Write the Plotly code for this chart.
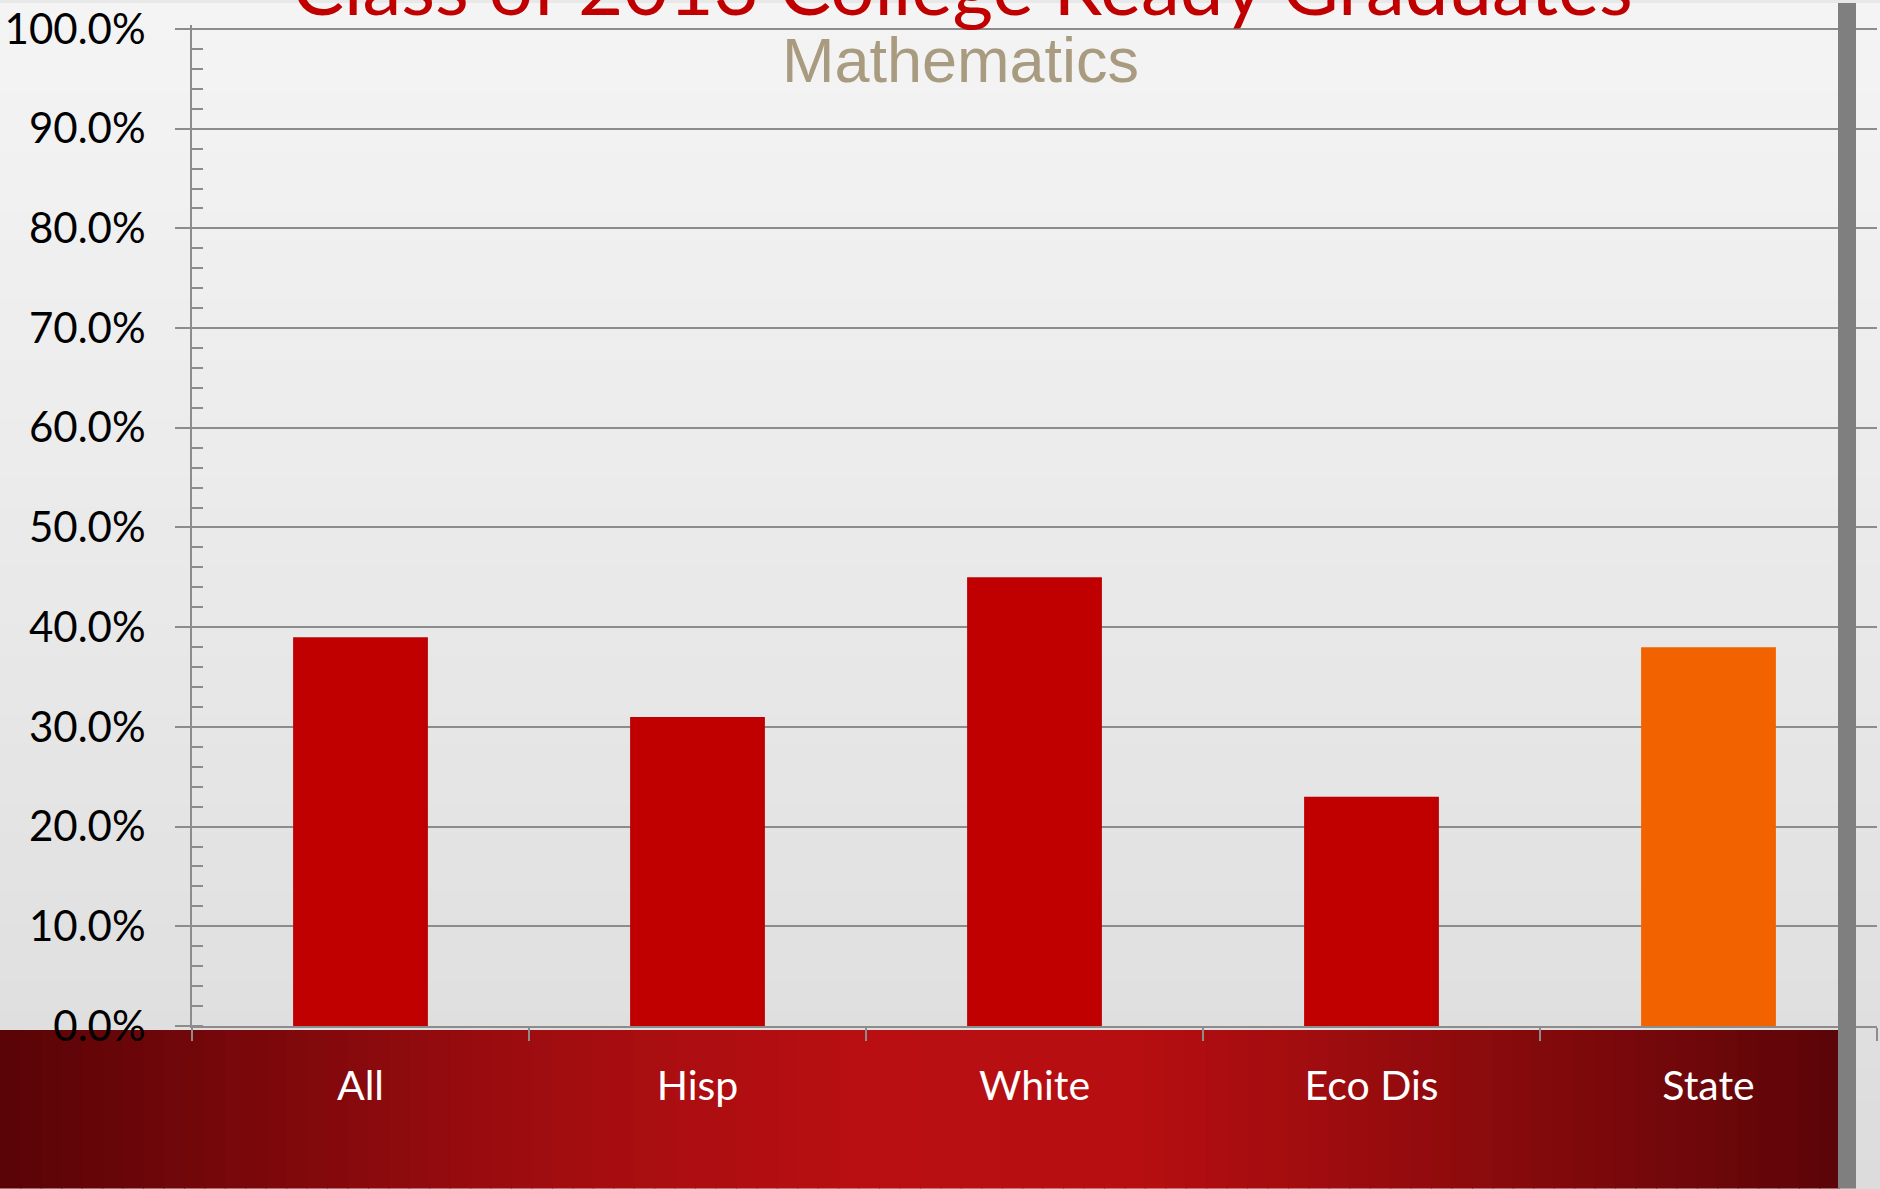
import plotly.graph_objects as go

# --- data ---
groups = ["All", "Hisp", "White", "Eco Dis", "State"]
college_ready = [0.39, 0.31, 0.45, 0.23, 0.38]
bar_colors = ["#C00000", "#C00000", "#C00000", "#C00000", "#F26300"]

TITLE = "Class of 2013 College Ready Graduates"
SUBTITLE = "Mathematics"

# --- page geometry (pixels) ---
W, H = 1880, 1189
L, R, T, B = 192, 3, 22, 163
PW, PH = W - L - R, H - T - B
Y_TOP = 1.004  # 100% sits 4px below the top edge so its gridline is drawn


def px2x(px):
    return (px - L) / PW


def py2y(py):
    return (H - B - py) / PH


def _hex(c):
    c = c.lstrip("#")
    return tuple(int(c[i:i + 2], 16) for i in (0, 2, 4))


def blend(stops, t):
    for (t0, c0), (t1, c1) in zip(stops, stops[1:]):
        if t0 <= t <= t1:
            f = 0 if t1 == t0 else (t - t0) / (t1 - t0)
            a, b = _hex(c0), _hex(c1)
            return "rgb({},{},{})".format(*[round(a[i] + (b[i] - a[i]) * f) for i in range(3)])
    return stops[-1][1]


shapes = []

# light paper background, slightly darker towards the bottom
bg_stops = [(0, "#f4f4f4"), (0.5, "#e9e9e9"), (1, "#dcdcdc")]
n_bg = 40
for i in range(n_bg):
    y0 = H * i / n_bg
    y1 = H * (i + 1) / n_bg + 1
    shapes.append(dict(type="rect", xref="paper", yref="paper", layer="below",
                       x0=px2x(0), x1=px2x(W), y0=py2y(y1), y1=py2y(y0),
                       fillcolor=blend(bg_stops, i / (n_bg - 1)), line_width=0))

# dark red band behind the category labels
band_stops = [(0, "#5a0407"), (0.3, "#a20d10"), (0.47, "#b90f12"),
              (0.62, "#b60e11"), (0.8, "#8e0b0d"), (1, "#5c0508")]
band_x0, band_x1, band_top = 0, 1840, 1030
n_band = 90
for i in range(n_band):
    x0 = band_x0 + (band_x1 - band_x0) * i / n_band
    x1 = band_x0 + (band_x1 - band_x0) * (i + 1) / n_band + (1 if i < n_band - 1 else 0)
    shapes.append(dict(type="rect", xref="paper", yref="paper", layer="below",
                       x0=px2x(x0), x1=px2x(x1), y0=py2y(H), y1=py2y(band_top),
                       fillcolor=blend(band_stops, i / (n_band - 1)), line_width=0))

# grey slide border on the right
shapes.append(dict(type="rect", xref="paper", yref="paper", layer="above",
                   x0=px2x(1838), x1=px2x(1856), y0=py2y(H), y1=py2y(0),
                   fillcolor="#7f7f7f", line_width=0))

fig = go.Figure()
fig.add_trace(go.Bar(
    x=groups, y=college_ready,
    marker=dict(color=bar_colors, line_width=0),
    width=0.4, showlegend=False,
))

GRID = "#8c8c8c"
fig.update_layout(
    width=W, height=H,
    margin=dict(l=L, r=R, t=T, b=B, pad=0),
    paper_bgcolor="#e8e8e8",
    plot_bgcolor="rgba(0,0,0,0)",
    font=dict(family="Lato, 'Open Sans', sans-serif", size=40, color="#000000"),
    shapes=shapes,
    bargap=0.6,
    xaxis=dict(
        showline=True, linecolor=GRID, linewidth=2,
        ticks="outside", tickson="boundaries", ticklen=13, tickwidth=2, tickcolor=GRID,
        tickfont=dict(color="#ffffff", size=41),
        ticklabelstandoff=23,
        showgrid=False, fixedrange=True,
    ),
    yaxis=dict(
        range=[0, Y_TOP], tick0=0, dtick=0.1, tickformat=".1%",
        showgrid=True, gridcolor=GRID, gridwidth=2, zeroline=False,
        showline=True, linecolor=GRID, linewidth=2,
        ticks="outside", ticklen=15, tickwidth=2, tickcolor=GRID,
        minor=dict(dtick=0.02, ticks="inside", ticklen=11, tickwidth=2,
                   tickcolor=GRID, showgrid=False),
        tickfont=dict(size=42, color="#000000"),
        ticklabelstandoff=21,
        ticklabeloverflow="allow",
    ),
    annotations=[
        dict(text=TITLE, xref="paper", yref="paper", x=px2x(962), y=py2y(31),
             xanchor="center", yanchor="bottom", showarrow=False,
             font=dict(family="Lato, sans-serif", size=78, color="#C00000")),
        dict(text=SUBTITLE, xref="paper", yref="paper", x=px2x(960), y=py2y(57),
             xanchor="center", yanchor="middle", showarrow=False,
             font=dict(family="'Liberation Sans', Arial, sans-serif", size=63, color="#A89B7F")),
    ],
)

# drop the browser's default page margin so the figure fills the window
fig.write_html("out.html", config={"displayModeBar": False},
               post_script="document.body.style.margin='0';")
